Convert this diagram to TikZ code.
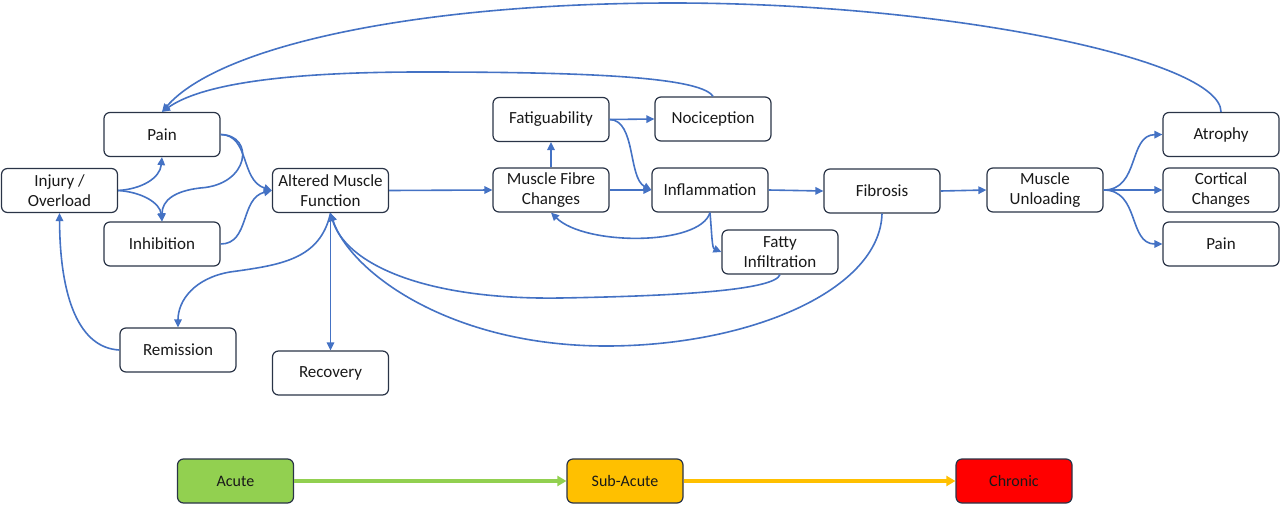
\documentclass[tikz,border=0pt]{standalone}
\usepackage{fontspec}
\setmainfont{Carlito}
\usetikzlibrary{arrows.meta}
\definecolor{lnblue}{HTML}{4472C4}
\definecolor{bxborder}{HTML}{2A3447}
\definecolor{acgreen}{HTML}{92D050}
\definecolor{sayellow}{HTML}{FFC000}
\definecolor{chred}{HTML}{FF0000}
\tikzset{
  box/.style={draw=bxborder, line width=1.2pt, rounded corners=6pt, minimum width=116pt, minimum height=44pt, inner sep=2pt, align=center, font=\fontsize{17}{19.5}\selectfont, text=black!90},
  phase/.style={box, font=\fontsize{16}{18}\selectfont},
  conn/.style={draw=lnblue, line width=1.6pt, -{Triangle[length=8pt,width=7.5pt]}},
  tline/.style={line width=3.5pt, -{Triangle[length=9pt,width=10pt]}}
}
\begin{document}
\begin{tikzpicture}[x=1pt,y=-1pt]
\useasboundingbox (0,0) rectangle (1280,504);
% nodes
\node[box] (inj) at (59.5,190.5) {Injury /\\Overload};
\node[box] (painL) at (162,134.5) {Pain};
\node[box] (inh) at (162,244) {Inhibition};
\node[box] (amf) at (330.5,190.5) {Altered Muscle\\Function};
\node[box] (rem) at (178,350) {Remission};
\node[box] (rec) at (330.5,373) {Recovery};
\node[box] (mfc) at (551,190) {Muscle Fibre\\Changes};
\node[box] (fat) at (551,119.5) {Fatiguability};
\node[box] (noc) at (713,119) {Nociception};
\node[box] (infl) at (710,190) {Inflammation};
\node[box] (fatty) at (780,252) {Fatty\\Infiltration};
\node[box] (fib) at (882,191) {Fibrosis};
\node[box] (mu) at (1045,190) {Muscle\\Unloading};
\node[box] (atr) at (1221,134.5) {Atrophy};
\node[box] (cort) at (1221,190) {Cortical\\Changes};
\node[box] (painR) at (1221,244) {Pain};
\node[phase, fill=acgreen] (acute) at (235.5,481) {Acute};
\node[phase, fill=sayellow] (sub) at (625,481) {Sub-Acute};
\node[phase, fill=chred] (chr) at (1014,481) {Chronic};
% connectors
\draw[conn] (inj.east) .. controls (142,189) and (160,178) .. (painL.south);
\draw[conn] (inj.east) .. controls (142,192) and (160,203) .. (inh.north);
\draw[conn] (painL.east) .. controls (250,135) and (240,180) .. (amf.west);
\draw[conn] (painL.east) .. controls (255,135) and (250,185) .. (200,188) .. controls (175,191) and (162,200) .. (inh.north);
\draw[conn] (inh.east) .. controls (250,244) and (240,198) .. (amf.west);
\draw[conn] (amf.east) -- (mfc.west);
\draw[conn] (mfc.north) -- (fat.south);
\draw[conn] (fat.east) -- (noc.west);
\draw[conn] (fat.east) .. controls (636,120) and (628,178) .. (infl.west);
\draw[conn] (mfc.east) -- (infl.west);
\draw[conn] (infl.east) -- (fib.west);
\draw[conn] (infl.south) .. controls (700,246) and (585,246) .. (mfc.south);
\draw[conn] (infl.south) .. controls (712,236) and (712,248) .. (fatty.west);
\draw[conn] (fib.east) -- (mu.west);
\draw[conn] (mu.east) .. controls (1140,190) and (1128,135) .. (atr.west);
\draw[conn] (mu.east) -- (cort.west);
\draw[conn] (mu.east) .. controls (1140,190) and (1128,244) .. (painR.west);
\draw[conn] (atr.north) .. controls (1221,60) and (950,3) .. (673,3) .. controls (420,3) and (220,45) .. (painL.north);
\draw[conn] (noc.north) .. controls (700,75) and (560,72) .. (421,72) .. controls (280,72) and (200,85) .. (painL.north);
\draw[conn] (amf.south) .. controls (320,260) and (280,265) .. (230,272) .. controls (195,278) and (178,300) .. (rem.north);
\draw[conn] (rem.west) .. controls (80,348) and (60,300) .. (inj.south);
\draw[conn] (amf.south) -- (rec.north);
\draw[conn] (fatty.south) .. controls (775,290) and (680,296) .. (560,298) .. controls (420,300) and (345,262) .. (amf.south);
\draw[conn] (fib.south) .. controls (880,290) and (750,346) .. (606,346) .. controls (450,346) and (350,272) .. (amf.south);
% timeline
\draw[tline, draw=acgreen, fill=acgreen] (acute.east) -- (sub.west);
\draw[tline, draw=sayellow, fill=sayellow] (sub.east) -- (chr.west);
\end{tikzpicture}
\end{document}
